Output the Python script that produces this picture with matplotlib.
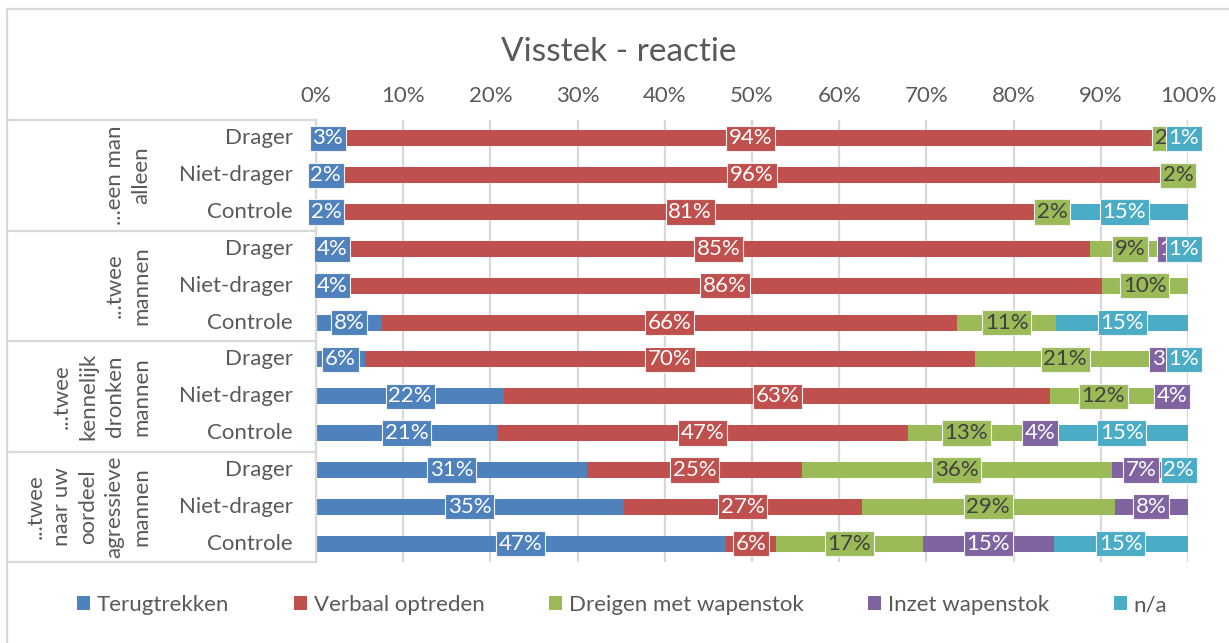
import matplotlib
matplotlib.use("Agg")
import matplotlib.pyplot as plt
from matplotlib.patches import Patch
from matplotlib.lines import Line2D
import matplotlib.transforms as mtransforms


groups = [
    "...een man\nalleen",
    "...twee\nmannen",
    "...twee\nkennelijk\ndronken\nmannen",
    "...twee\nnaar uw\noordeel\nagressieve\nmannen",
]
rows = ["Drager", "Niet-drager", "Controle"]

series = ["Terugtrekken", "Verbaal optreden", "Dreigen met wapenstok",
          "Inzet wapenstok", "n/a"]

# percentages per row (4 groups x 3 rows)
terugtrekken = [2.7, 2.2, 2.3, 3.6, 3.7, 7.6, 5.6, 21.6, 20.8, 31.1, 35.3, 47.0]
verbaal = [94.2, 95.6, 81.2, 85.2, 86.4, 65.9, 70.0, 62.6, 47.1, 24.6, 27.3, 5.7]
dreigen = [2.1, 2.2, 1.9, 9.2, 9.9, 11.4, 20.6, 12.2, 13.3, 35.6, 29.0, 16.9]
inzet = [0, 0, 0, 1.0, 0, 0, 2.8, 3.6, 3.6, 6.6, 8.4, 15.0]
na = [1.0, 0, 14.6, 1.0, 0, 15.1, 1.0, 0, 15.2, 2.1, 0, 15.4]

colors = ["#4F81BD", "#C0504D", "#9BBB59", "#8064A2", "#4BACC6"]
label_colors = ["white", "white", "#404040", "white", "white"]

GRAY = "#595959"
LINE = "#D9D9D9"
FS = 16

plt.rcParams["font.family"] = ["Lato", "DejaVu Sans"]

fig = plt.figure(figsize=(12.29, 6.43), dpi=100)
ax = fig.add_axes([316 / 1229, 1 - 562 / 643, 872 / 1229, 442 / 643])

n = len(groups) * len(rows)
ypos = list(range(n))
data = [terugtrekken, verbaal, dreigen, inzet, na]

left = [0.0] * n
for k, vals in enumerate(data):
    ax.barh(ypos, vals, left=left, height=0.43, color=colors[k],
            zorder=2, label=series[k])
    for i in range(n):
        v = vals[i]
        if v > 0:
            ax.text(left[i] + v / 2, i, f"{v:.0f}%", ha="center", va="center",
                    fontsize=FS, color=label_colors[k], zorder=3 + k,
                    bbox=dict(boxstyle="square,pad=0.12", facecolor=colors[k],
                              edgecolor="#F2F2F2", linewidth=0.8))
    left = [left[i] + vals[i] for i in range(n)]

ax.set_xlim(0, 100)
ax.set_ylim(n - 0.5, -0.5)
ax.xaxis.tick_top()
ax.set_xticks(range(0, 101, 10))
ax.set_xticklabels([f"{t}%" for t in range(0, 101, 10)])
ax.tick_params(axis="x", length=0, pad=10, labelsize=FS, labelcolor=GRAY)
ax.set_yticks([])
ax.grid(axis="x", color=LINE, linewidth=1.6, zorder=0)
for s in ax.spines.values():
    s.set_visible(False)

# category table on the left
tr = mtransforms.blended_transform_factory(ax.transAxes, ax.transData)
x0 = (8 - 316) / 872
for b in [-0.5, 2.5, 5.5, 8.5, 11.5]:
    ax.add_line(Line2D([x0, 0], [b, b], transform=tr, color=LINE,
                       linewidth=1.6, clip_on=False))
ax.add_line(Line2D([0, 0], [-0.5, 11.5], transform=tr, color=LINE,
                   linewidth=1.6, clip_on=False))

for i in range(n):
    ax.text(-23 / 872, i, rows[i % 3], transform=tr, ha="right", va="center",
            fontsize=FS, color=GRAY)

for g, name in enumerate(groups):
    ax.text((151 - 316) / 872, g * 3 + 1, name, transform=tr, rotation=90,
            ha="right", va="center", multialignment="center",
            fontsize=FS, color=GRAY, linespacing=1.4)

# chart border (top and left)
fig.add_artist(Line2D([7 / 1229, 7 / 1229], [0, 1 - 9 / 643],
                      transform=fig.transFigure, color=LINE, linewidth=1.6))
fig.add_artist(Line2D([7 / 1229, 1], [1 - 9 / 643, 1 - 9 / 643],
                      transform=fig.transFigure, color=LINE, linewidth=1.6))

fig.text(619 / 1229, 1 - 52 / 643, "Visstek - reactie", ha="center",
         va="center", fontsize=24, color=GRAY)

handles = [Patch(facecolor=c, edgecolor="none") for c in colors]
fig.legend(handles, series, loc="center", bbox_to_anchor=(622 / 1229, 1 - 605 / 643),
           ncol=5, frameon=False, fontsize=FS, labelcolor=GRAY,
           handlelength=0.6, handleheight=0.6, handletextpad=0.3,
           columnspacing=2.9)

fig.savefig("out.png", dpi=100, facecolor="white")
